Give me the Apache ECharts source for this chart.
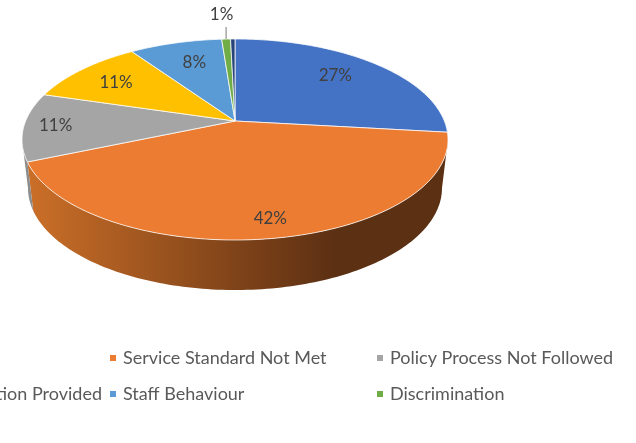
<!DOCTYPE html>
<html>
<head>
<meta charset="utf-8">
<style>html,body{margin:0;padding:0;background:#fff}#c{width:636px;height:443px}</style>
<script src="https://cdn.jsdelivr.net/npm/echarts@6/dist/echarts.min.js"></script>
</head>
<body>
<div id="c"></div>
<script>
var categories = ['Other', 'Service Standard Not Met', 'Policy Process Not Followed', 'tion Provided', 'Staff Behaviour', 'Discrimination', 'Other 2'];
var values = [26.8, 41.8, 11, 10.8, 8.4, 0.8, 0.4];
var percentLabels = ['27%', '42%', '11%', '11%', '8%', '1%', ''];
var colors = ['#4472C4', '#EB7C31', '#A5A5A5', '#FFC000', '#5B9BD5', '#70AD47', '#264478'];
var labelReach = [0.72, 0.85, 0.86, 0.76, 0.74, 1.36, 0];
var labelNudgeX = [-3, 5, 2, 0, 5, -2, 0];
var labelNudgeY = [-3, 1, 0, 2, 2, -1, 0];
var legendNames = ['Service Standard Not Met', 'Policy Process Not Followed', 'tion Provided', 'Staff Behaviour', 'Discrimination'];
var legendLeft = [110, 377, -17, 110, 377];
var legendTop = [349, 349, 385, 385, 385];

// Perspective of the pie's top face, and the smaller ellipse of its base
var apex = [235, 121], rimTopDy = 82, rimBottomDy = 119, halfWidth = 213;
var k = (rimBottomDy - rimTopDy) / (rimBottomDy + rimTopDy);
var B = rimTopDy * (1 + k), A = halfWidth * Math.sqrt(1 - k * k);
var midY = apex[1] + (rimBottomDy - rimTopDy) / 2;
var baseMidY = 188, baseHalfWidth = 207, baseScaleY = 102 / 100.5;

function project(theta, reach) {
  var u = Math.sin(theta) * reach, v = -Math.cos(theta) * reach, w = 1 - k * v;
  return [apex[0] + A * u / w, apex[1] + B * v / w];
}
function toBase(p) {
  return [apex[0] + (p[0] - apex[0]) * baseHalfWidth / halfWidth, baseMidY + (p[1] - midY) * baseScaleY];
}
var total = values.reduce(function (a, b) { return a + b; }, 0);
function startAngle(i) {
  var s = 0;
  for (var j = 0; j < i; j++) s += values[j];
  return s / total * Math.PI * 2;
}
function rim(a0, a1) {
  var pts = [], n = Math.max(2, Math.ceil((a1 - a0) / 0.02));
  for (var i = 0; i <= n; i++) pts.push(project(a0 + (a1 - a0) * i / n, 1));
  return pts;
}
var wallFrom = Math.acos(-k), wallTo = Math.PI * 2 - wallFrom;
var orangeWall = new echarts.graphic.LinearGradient(0, 0, 1, 0, [
  { offset: 0, color: '#CB6F28' }, { offset: 0.5, color: '#7F4319' },
  { offset: 0.73, color: '#5C3013' }, { offset: 1, color: '#5C3013' }
]);

function renderSlice(i) {
  return function (params, api) {
    var a0 = startAngle(i), a1 = a0 + api.value(0) / total * Math.PI * 2;
    var children = [];
    var w0 = Math.max(a0, wallFrom), w1 = Math.min(a1, wallTo);
    if (w1 > w0) {
      var top = rim(w0, w1);
      children.push({
        type: 'polygon',
        shape: { points: top.concat(top.map(toBase).reverse()) },
        style: { fill: i === 1 ? orangeWall : '#8C8C8C', stroke: 'none' }
      });
    }
    children.push({
      type: 'polygon',
      shape: { points: [apex].concat(rim(a0, a1)) },
      style: { fill: colors[i], stroke: 'rgba(255,255,255,0.75)', lineWidth: 1, lineJoin: 'round' }
    });
    var mid = (a0 + a1) / 2;
    if (percentLabels[i]) {
      var lp = project(mid, labelReach[i]);
      if (labelReach[i] > 1) {
        var p0 = project(mid, 1), p1 = project(mid, 1.18);
        children.push({
          type: 'line',
          shape: { x1: p0[0], y1: p0[1], x2: p0[0], y2: p1[1] },
          style: { stroke: '#A6A6A6', lineWidth: 1.5 }
        });
      }
      children.push({
        type: 'text', z2: 10,
        style: {
          x: lp[0] + labelNudgeX[i], y: lp[1] + labelNudgeY[i], text: percentLabels[i], align: 'center', verticalAlign: 'middle',
          fill: '#404040', font: '17px Lato, Carlito, sans-serif'
        }
      });
    }
    return { type: 'group', children: children };
  };
}

var chart = echarts.init(document.getElementById('c'), null, { renderer: 'canvas' });
chart.setOption({
  animation: false,
  backgroundColor: '#fff',
  legend: legendNames.map(function (name, i) {
    return {
      data: [name], left: legendLeft[i], top: legendTop[i], padding: 0,
      icon: 'rect', itemWidth: 6, itemHeight: 6, selectedMode: false,
      textStyle: { color: '#595959', fontSize: 18, fontFamily: 'Lato, Carlito, sans-serif', padding: [0, 0, 0, 2] }
    };
  }),
  series: categories.map(function (name, i) {
    return {
      type: 'custom', name: name, coordinateSystem: 'none', clip: false,
      itemStyle: { color: colors[i] },
      data: [values[i]],
      renderItem: renderSlice(i)
    };
  })
});
</script>
</body>
</html>
